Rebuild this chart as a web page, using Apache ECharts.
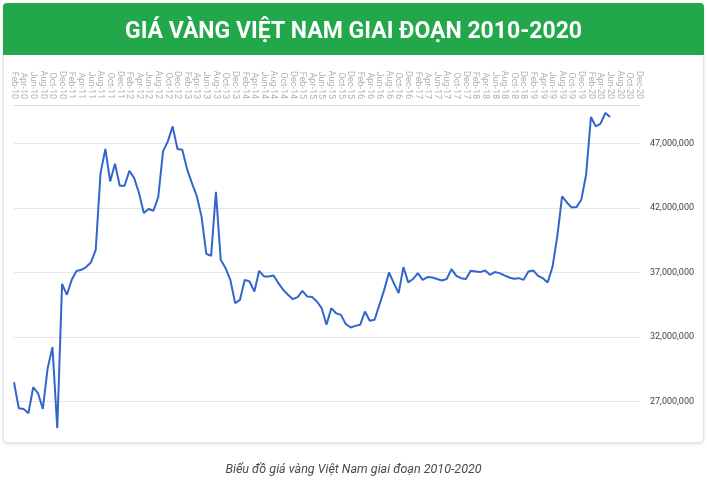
<!DOCTYPE html>
<html lang="vi">
<head>
<meta charset="utf-8">
<title>Giá vàng Việt Nam 2010-2020</title>
<script src="https://cdn.jsdelivr.net/npm/echarts@6.0.0/dist/echarts.min.js"></script>
<style>
    html, body { margin: 0; padding: 0; background: #fff; }
    #card {
        position: absolute; left: 3px; top: 3px; width: 699px; height: 438px;
        border: 1px solid #e4e4e4; border-radius: 4px; background: #fff;
        box-shadow: 0 1px 3px rgba(0,0,0,0.12);
    }
    #head {
        position: absolute; left: 3px; top: 3px; width: 701px; height: 52px;
        background: #22a84a; border-radius: 4px 4px 0 0;
    }
    #main { position: absolute; left: 0; top: 0; width: 707px; height: 480px; }
</style>
</head>
<body>
<div id="card"></div>
<div id="head"></div>
<div id="main"></div>
<script type="text/javascript">
    // x axis: monthly, Feb-10 .. Dec-20
    var monthNames = ['Jan', 'Feb', 'Mar', 'Apr', 'May', 'Jun', 'Jul', 'Aug', 'Sep', 'Oct', 'Nov', 'Dec'];
    var years = ['10', '11', '12', '13', '14', '15', '16', '17', '18', '19', '20'];

    // gold price, VND (Feb-10 .. Jun-20)
    var goldPrice = [
        28500000, 26480000, 26430000, 26090000, 28110000, 27640000, 26430000, 29590000, 31220000, 24930000,
        36130000, 35280000, 36440000, 37120000, 37220000, 37430000, 37790000, 38770000, 44720000, 46590000,
        44070000, 45450000, 43740000, 43740000, 44900000, 44330000, 43170000, 41620000, 41930000, 41800000,
        42860000, 46400000, 47180000, 48340000, 46590000, 46530000, 45030000, 43940000, 42960000, 41360000,
        38460000, 38300000, 43260000, 37990000, 37350000, 36440000, 34630000, 34890000, 36440000, 36310000,
        35530000, 37140000, 36700000, 36700000, 36780000, 36180000, 35660000, 35280000, 34940000, 35100000,
        35590000, 35140000, 35100000, 34760000, 34240000, 32950000, 34240000, 33850000, 33720000, 33020000,
        32740000, 32870000, 32950000, 33980000, 33260000, 33340000, 34500000, 35660000, 37010000, 36180000,
        35410000, 37430000, 36240000, 36500000, 36960000, 36440000, 36650000, 36620000, 36500000, 36390000,
        36500000, 37270000, 36750000, 36570000, 36500000, 37140000, 37090000, 37040000, 37170000, 36830000,
        37040000, 36960000, 36780000, 36620000, 36520000, 36570000, 36440000, 37090000, 37170000, 36750000,
        36570000, 36240000, 37430000, 39800000, 42910000, 42440000, 42050000, 42080000, 42650000, 44590000,
        49070000, 48340000, 48550000, 49380000, 49070000
    ];

    var categories = [];
    for (var y = 0; y < years.length; y++) {
        for (var m = 0; m < 12; m++) {
            if (y === 0 && m === 0) continue;   // series starts in Feb-10
            categories.push(monthNames[m] + '-' + years[y]);
        }
    }

    var chart = echarts.init(document.getElementById('main'));
    var grid = '#e6e6e6';

    chart.setOption({
        backgroundColor: 'transparent',
        animation: false,
        title: [
            {
                text: 'GIÁ VÀNG VIỆT NAM GIAI ĐOẠN 2010-2020',
                left: 'center',
                top: 16,
                textStyle: { color: '#fff', fontSize: 23, fontWeight: 'bold', fontFamily: 'Roboto' }
            },
            {
                text: 'Biểu đồ giá vàng Việt Nam giai đoạn 2010-2020',
                left: 'center',
                top: 458,
                textStyle: { color: '#4a4a4a', fontSize: 12.5, fontWeight: 'normal', fontStyle: 'italic', fontFamily: 'Roboto' }
            }
        ],
        grid: { left: 14, right: 68, top: 105, bottom: 14 },
        xAxis: {
            type: 'category',
            position: 'top',
            boundaryGap: false,
            data: categories,
            axisLine: { lineStyle: { color: '#dcdcdc' } },
            axisTick: { show: false },
            axisLabel: { interval: 1, rotate: 90, fontSize: 9, color: '#b0b0b0', margin: 6, fontFamily: 'Roboto' },
            splitLine: { show: false }
        },
        yAxis: {
            type: 'value',
            position: 'right',
            min: 22000000,
            max: 50000000,
            interval: 5000000,
            axisLine: { show: false },
            axisTick: { show: false },
            axisLabel: {
                margin: 11,
                fontSize: 9,
                color: '#444',
                fontFamily: 'Roboto',
                formatter: function (v) {
                    if (v <= 22000000 || v >= 50000000) return '';
                    return v.toLocaleString('en-US');
                }
            },
            splitLine: {
                lineStyle: { color: ['rgba(0,0,0,0)', grid, grid, grid, grid, grid, '#dcdcdc'] }
            }
        },
        series: [{
            type: 'line',
            data: goldPrice,
            showSymbol: false,
            lineStyle: { color: '#3366cc', width: 2 },
            itemStyle: { color: '#3366cc' }
        }]
    });
</script>
</body>
</html>
